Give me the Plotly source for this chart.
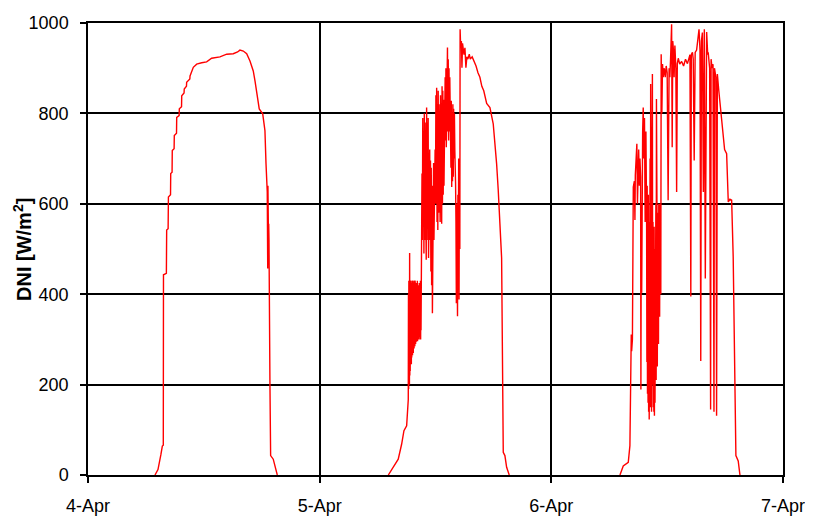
import plotly.graph_objects as go
import pandas as pd

# ---- data (hour of day, DNI W/m2) ----
day_labels = ["2000-04-04", "2000-04-05", "2000-04-06"]

d1_hours = [6.94, 7.25, 7.55, 7.70, 7.80, 7.82, 8.12, 8.15, 8.30, 8.33, 8.55, 8.57, 8.71, 8.73, 8.92, 8.94,
            9.17, 9.19, 9.44, 9.46, 9.69, 9.71, 9.95, 9.97, 10.2, 10.22, 10.55, 10.57, 10.91, 11.26, 11.78,
            12.29, 12.81, 13.67, 14.37, 15.05, 15.5, 15.74, 16.09, 16.44, 16.78, 17.12, 17.30, 17.47, 17.74,
            18.10, 18.33, 18.44, 18.57, 18.62, 18.64, 18.68, 18.70, 18.72, 18.75, 18.85, 18.92, 19.19, 19.37, 19.61]
d1_dni = [0, 12, 45, 64, 66, 443, 446, 542, 545, 615, 620, 667, 670, 718, 722, 751,
          756, 791, 795, 810, 815, 839, 845, 854, 860, 869, 876, 883, 902, 909, 912,
          914, 922, 925, 931, 932, 936, 940, 938, 932, 916, 894, 872, 850, 810,
          799, 762, 689, 626, 457, 640, 600, 512, 556, 520, 200, 43, 35, 18, 0]

d2_hours = [7.11, 7.62, 8.14, 8.49, 8.73, 9.01, 9.10, 9.18,
            9.20, 9.22, 9.24, 9.26, 9.28, 9.30, 9.32, 9.34, 9.36, 9.38, 9.40, 9.42, 9.44, 9.46, 9.48, 9.50,
            9.52, 9.54, 9.56, 9.58, 9.60, 9.62, 9.64, 9.66, 9.68, 9.70, 9.72, 9.74, 9.76, 9.78, 9.80, 9.82,
            9.84, 9.86, 9.88, 9.90, 9.92, 9.94, 9.96, 9.98, 10.00, 10.02, 10.04, 10.06, 10.08, 10.10, 10.12,
            10.14, 10.16, 10.18, 10.20, 10.22, 10.24, 10.26, 10.28, 10.30, 10.32, 10.34, 10.36, 10.38, 10.40,
            10.42, 10.44, 10.46, 10.48, 10.50, 10.52, 10.56,
            10.60, 10.64, 10.68, 10.72, 10.76, 10.80, 10.84, 10.88, 10.92, 10.96, 11.00, 11.04, 11.08, 11.12,
            11.16, 11.20, 11.24, 11.28, 11.32, 11.36, 11.40, 11.44, 11.48, 11.52, 11.56, 11.60, 11.64, 11.68,
            11.72, 11.76, 11.80, 11.84, 11.88, 11.92, 11.96, 12.00, 12.04, 12.08, 12.12, 12.16, 12.20, 12.24,
            12.28, 12.32, 12.36, 12.40, 12.44, 12.48, 12.52, 12.56, 12.60, 12.64, 12.68, 12.72, 12.76, 12.80,
            12.84, 12.88, 12.92, 12.96, 13.00, 13.04, 13.08, 13.12, 13.16, 13.20, 13.24, 13.28, 13.32, 13.36,
            13.40, 13.44, 13.48, 13.52, 13.56, 13.60, 13.64, 13.68, 13.72, 13.76, 13.80, 13.84, 13.88, 13.92,
            13.96, 14.00, 14.04, 14.08, 14.12, 14.16, 14.20, 14.24, 14.28, 14.32, 14.36, 14.40, 14.44, 14.48,
            14.52, 14.55, 14.6, 14.68, 14.74, 14.8, 14.88, 14.95, 15.05, 15.15, 15.25, 15.35,
            15.5, 15.6, 15.8, 16.0, 16.2, 16.4, 16.6, 16.8, 17.0, 17.3, 17.64, 17.98, 18.16, 18.33, 18.5,
            18.68, 18.85, 19.02, 19.19, 19.37, 19.64]
d2_dni = [0, 17, 35, 68, 98, 109, 150, 167,
          400, 190, 430, 210, 410, 200, 491, 220, 420, 230, 430, 240, 400, 250, 425, 245,
          410, 260, 430, 263, 405, 265, 430, 270, 415, 270, 425, 275, 400, 280, 430, 280,
          410, 285, 430, 285, 420, 290, 415, 290, 425, 295, 410, 295, 420, 300, 430,
          296, 415, 300, 400, 300, 420, 305, 410, 300, 425, 310, 410, 305, 420,
          310, 430, 300, 415, 320, 440, 447,
          667, 520, 790, 560, 760, 490, 800, 520, 780, 560, 740, 476, 813, 520, 780,
          600, 790, 480, 700, 540, 720, 520, 696, 450, 680, 420, 640, 358, 660, 500,
          690, 520, 700, 560, 720, 600, 840, 600, 857, 560, 820, 542,
          850, 580, 820, 620, 800, 560, 840, 580, 820, 556, 860, 600, 850, 620,
          830, 640, 860, 700, 880, 740, 900, 725, 930, 760, 946, 760, 920, 740,
          900, 760, 880, 700, 840, 680, 828, 637, 800, 650, 820, 660, 810, 700,
          800, 720, 700, 645, 560, 380, 600, 400, 351, 620, 450, 700, 388, 680,
          500, 986, 950, 960, 901, 955, 940, 930, 945, 901, 925, 920,
          931, 920, 925, 916, 905, 890, 880, 860, 850, 822, 813, 777, 733, 689, 630,
          564, 480, 50, 43, 17, 0]

d3_hours = [7.11, 7.45, 7.97, 8.14, 8.28, 8.32, 8.40, 8.49, 8.60, 8.66, 8.70, 8.80, 8.86, 8.92, 8.98, 9.05,
            9.12, 9.18, 9.25, 9.28, 9.32, 9.36, 9.40, 9.46, 9.52, 9.58, 9.65, 9.72, 9.80, 9.87,
            9.90, 9.93, 9.96, 9.99, 10.02, 10.05, 10.08, 10.11, 10.14, 10.17, 10.20, 10.23, 10.26, 10.29,
            10.32, 10.35, 10.38, 10.41, 10.44, 10.47, 10.50, 10.53, 10.56, 10.59, 10.62, 10.65, 10.68, 10.71,
            10.74, 10.77, 10.80, 10.83, 10.86, 10.89, 10.92, 10.95, 10.98, 11.01, 11.04, 11.07, 11.10, 11.13,
            11.16, 11.19, 11.22, 11.25, 11.28, 11.31, 11.34, 11.38, 11.45, 11.52, 11.59,
            11.7, 11.8, 11.9, 12.0, 12.1, 12.2, 12.28, 12.35, 12.46, 12.52,
            12.58, 12.65, 12.72, 12.80, 12.9, 12.98, 13.05, 13.15, 13.3, 13.5, 13.7, 13.9, 14.1, 14.36, 14.45,
            14.5, 14.62, 14.7, 14.8, 14.9, 15.05, 15.22, 15.3, 15.4, 15.48, 15.55, 15.65, 15.75, 15.85, 15.95,
            16.09, 16.2, 16.25, 16.4, 16.5, 16.55, 16.65, 16.75, 16.85, 16.9, 17.05, 17.12, 17.2, 17.35, 17.5,
            17.65, 17.81, 17.95, 18.16, 18.25, 18.33, 18.5, 18.68, 18.84, 19.02, 19.12, 19.36, 19.54]
d3_dni = [0, 20, 28, 65, 311, 274, 300, 637, 650, 564, 663, 700, 733, 600, 700, 720,
          640, 700, 660, 189, 600, 403, 696, 760, 813, 700, 790, 560, 760, 560,
          250, 640, 180, 600, 160, 620, 140, 560, 123, 600, 200, 700, 150, 865,
          170, 560, 140, 620, 180, 887, 200, 560, 150, 540, 140, 549, 131, 500,
          160, 480, 200, 600, 210, 832, 215, 560, 240, 580, 260, 540, 290, 600,
          310, 580, 350, 600, 380, 580, 400, 931, 800, 909, 880,
          900, 880, 905, 890, 608, 900, 880, 920, 997, 725,
          960, 940, 880, 950, 900, 626, 910, 922, 909, 915, 905, 920, 910, 930, 395,
          930, 935, 920, 696, 935, 940, 980, 986, 940, 252, 960, 979, 626, 986, 435,
          980, 930, 935, 900, 145, 920, 900, 909, 140, 900, 880, 131, 887, 850, 821,
          790, 755, 720, 711, 667, 604, 610, 608, 483, 138, 43, 31, 0]

y_ticks = [0, 200, 400, 600, 800, 1000]
x_ticks = ["2000-04-04", "2000-04-05", "2000-04-06", "2000-04-07"]
x_tick_text = ["4-Apr", "5-Apr", "6-Apr", "7-Apr"]

# ---- build series ----
xs, ys = [], []
for day, hrs, vals in zip(day_labels, [d1_hours, d2_hours, d3_hours], [d1_dni, d2_dni, d3_dni]):
    base = pd.Timestamp(day)
    for h, v in zip(hrs, vals):
        xs.append(base + pd.Timedelta(hours=h))
        ys.append(v)
    xs.append(None)
    ys.append(None)

fig = go.Figure()
fig.add_trace(go.Scatter(x=xs, y=ys, mode="lines", connectgaps=False,
                         line=dict(color="#ff0000", width=1.4), showlegend=False))

font_family = "Liberation Sans, Arial, sans-serif"
# the page body adds an 8px offset, so the figure is sized/margined to compensate
fig.update_layout(
    width=805, height=510,
    margin=dict(l=80, r=30, t=15, b=43),
    paper_bgcolor="white", plot_bgcolor="white",
    font=dict(family=font_family, size=18, color="black"),
    xaxis=dict(type="date", range=[x_ticks[0], x_ticks[-1]], automargin=False,
               tickvals=x_ticks, ticktext=x_tick_text,
               showgrid=True, gridcolor="black", gridwidth=1.5,
               showline=True, linecolor="black", linewidth=1.5, mirror=True,
               ticks="outside", ticklen=6, tickcolor="black", tickwidth=1.5,
               ticklabelstandoff=8,
               tickfont=dict(size=18, color="black"), zeroline=False),
    yaxis=dict(range=[0, 1000], tickvals=y_ticks, automargin=False,
               showgrid=True, gridcolor="black", gridwidth=1.5,
               showline=True, linecolor="black", linewidth=1.5, mirror=True,
               ticks="outside", ticklen=6, tickcolor="black", tickwidth=1.5,
               ticklabelstandoff=8,
               tickfont=dict(size=18, color="black"), zeroline=False),
    annotations=[dict(text="<b>DNI [W/m<sup>2</sup>]</b>", xref="paper", yref="paper",
                      x=-0.095, y=0.5, xanchor="center", yanchor="middle",
                      textangle=-90, showarrow=False,
                      font=dict(family=font_family, size=20, color="black"))],
)

fig.write_html("out.html")
